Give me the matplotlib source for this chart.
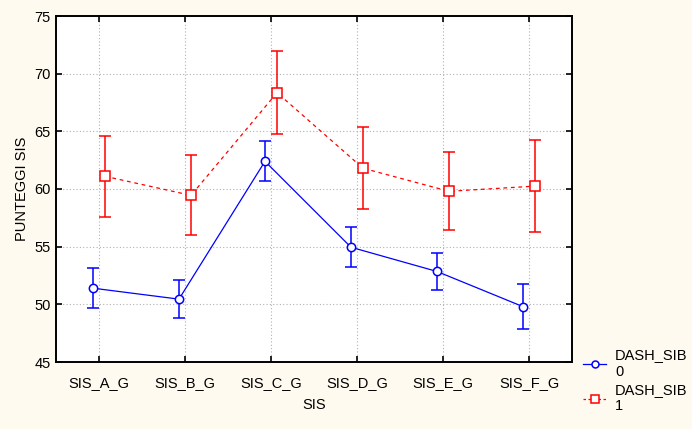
import matplotlib

matplotlib.use("Agg")
import matplotlib.pyplot as plt
from matplotlib.lines import Line2D
import numpy as np

categories = ["SIS_A_G", "SIS_B_G", "SIS_C_G", "SIS_D_G", "SIS_E_G", "SIS_F_G"]
sib0_mean = [51.4, 50.45, 62.4, 54.95, 52.85, 49.8]
sib0_err = [1.73, 1.63, 1.72, 1.72, 1.6, 1.93]
sib1_mean = [61.1, 59.45, 68.35, 61.8, 59.8, 60.25]
sib1_err = [3.5, 3.47, 3.6, 3.55, 3.37, 4.0]
y_ticks = [45, 50, 55, 60, 65, 70, 75]

plt.rcParams["font.family"] = ["Liberation Sans", "DejaVu Sans"]
BG = "#fffaef"

fig = plt.figure(figsize=(6.92, 4.29), dpi=100, facecolor=BG)
ax = fig.add_axes([56 / 692, 1 - 362 / 429, 516 / 692, 346 / 429])
ax.set_facecolor("white")

x = np.arange(len(categories))
off = 0.07
ax.errorbar(x - off, sib0_mean, yerr=sib0_err, color="#0000ff", lw=0.9,
            marker="o", ms=6, mfc="white", mec="#0000ff", mew=1.1,
            elinewidth=1.1, capsize=4, capthick=1.1, zorder=3)
ax.errorbar(x + off, sib1_mean, yerr=sib1_err, color="#ff0000", lw=0.9,
            ls=(0, (3, 3)), marker="s", ms=7, mfc="white", mec="#ff0000",
            mew=1.1, elinewidth=1.1, capsize=4, capthick=1.1, zorder=3)

ax.set_xlim(-0.5, len(categories) - 0.5)
ax.set_ylim(45, 75)
ax.set_xticks(x)
ax.set_xticklabels(categories)
ax.set_yticks(y_ticks)
ax.grid(True, color="#b0b0b0", ls=(0, (1, 2)), lw=0.8)
ax.tick_params(direction="in", length=4, width=1.2, labelsize=10.5,
               top=True, right=True, colors="black")
ax.tick_params(axis="x", pad=10)
ax.tick_params(axis="y", pad=4)
for s in ax.spines.values():
    s.set_linewidth(1.4)
ax.set_xlabel("SIS", fontsize=10.5, labelpad=6)
ax.set_ylabel("PUNTEGGI SIS", fontsize=10.5, labelpad=4)

handles = [
    Line2D([], [], color="#0000ff", lw=0.9, marker="o", ms=5,
           mfc="white", mec="#0000ff", mew=1.1),
    Line2D([], [], color="#ff0000", lw=0.9, ls=(0, (2, 2)), marker="s", ms=6,
           mfc="white", mec="#ff0000", mew=1.1),
]
ax.legend(handles, ["DASH_SIB\n0", "DASH_SIB\n1"], loc="lower left",
          bbox_to_anchor=(1.01, -0.165), frameon=False, fontsize=10.5,
          handlelength=1.6, handletextpad=0.6, labelspacing=0.3,
          borderaxespad=0)

fig.savefig("out.png", dpi=100, facecolor=BG)
